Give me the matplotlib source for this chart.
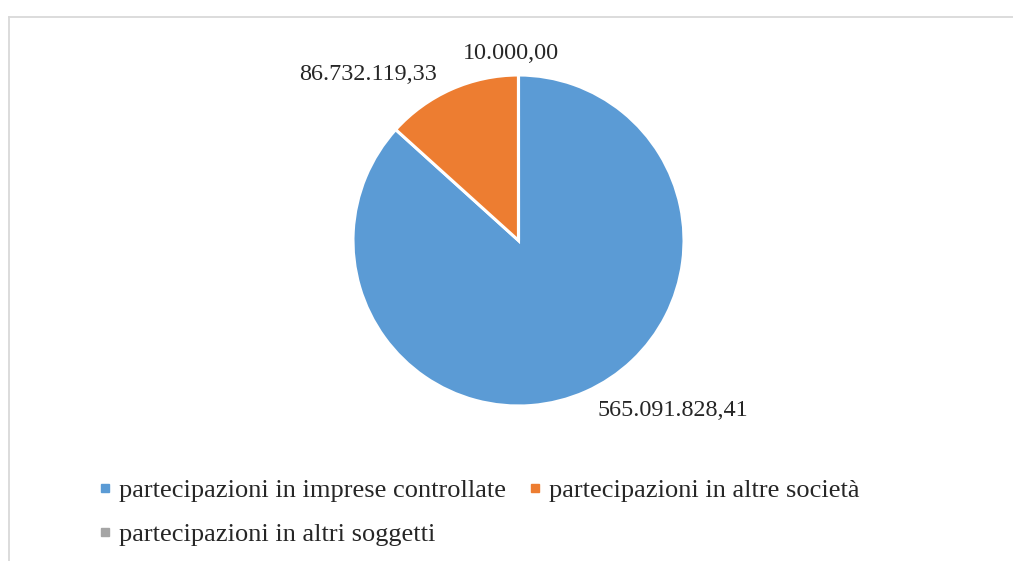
import matplotlib.pyplot as plt
from matplotlib.lines import Line2D

# Partecipazioni: importi e colori
categorie = ["partecipazioni in imprese controllate",
             "partecipazioni in altre società",
             "partecipazioni in altri soggetti"]
importi = [565091828.41, 86732119.33, 10000.00]
colori = ["#5B9BD5", "#ED7D31", "#A5A5A5"]

# posizione delle etichette (in raggi, centro della torta = 0,0)
pos_etichette = [(0.93, -1.03), (-0.91, 1.0), (-0.045, 1.13)]


def formato_it(v):
    s = f"{v:,.2f}"
    return s.replace(",", "#").replace(".", ",").replace("#", ".")


plt.rcParams['font.family'] = ['Liberation Serif', 'DejaVu Serif']
testo = "#262626"

W, H = 1013, 561
fig = plt.figure(figsize=(W / 100, H / 100), dpi=100)
ax = fig.add_axes([0, 0, 1, 1])

cx, cy, r = 518.5, 240.5, 165.5
wedges, _ = ax.pie(importi, colors=colori, startangle=90, counterclock=False,
                   radius=1, wedgeprops=dict(edgecolor="white", linewidth=2.2))
ax.set_aspect('auto')
ax.set_xlim(-cx / r, (W - cx) / r)
ax.set_ylim(-(H - cy) / r, cy / r)
ax.axis('off')

for v, (x, y) in zip(importi, pos_etichette):
    ax.text(x, y, formato_it(v), ha='center', va='center', fontsize=17.4, color=testo)

# legenda: riga 1 controllate + altre società, riga 2 altri soggetti
handles = [Line2D([], [], marker='s', linestyle='none', markersize=6,
                  color=c) for c in colori]
ordine = [0, 2, 1]
fig.legend([handles[i] for i in ordine], [categorie[i] for i in ordine],
           ncol=2, loc='upper left', bbox_to_anchor=(99 / W, 1 - 479 / H),
           frameon=False, fontsize=19, handlelength=0.45, handletextpad=0.3,
           labelspacing=0.75, columnspacing=0.88, labelcolor=testo,
           borderpad=0, borderaxespad=0)

# bordo dell'area del grafico
grigio = "#D9D9D9"
fig.add_artist(Line2D([9 / W, 1], [1 - 16.5 / H, 1 - 16.5 / H], color=grigio, lw=1.3))
fig.add_artist(Line2D([9 / W, 9 / W], [0, 1 - 16.5 / H], color=grigio, lw=1.3))

fig.savefig("out.png", dpi=100)
